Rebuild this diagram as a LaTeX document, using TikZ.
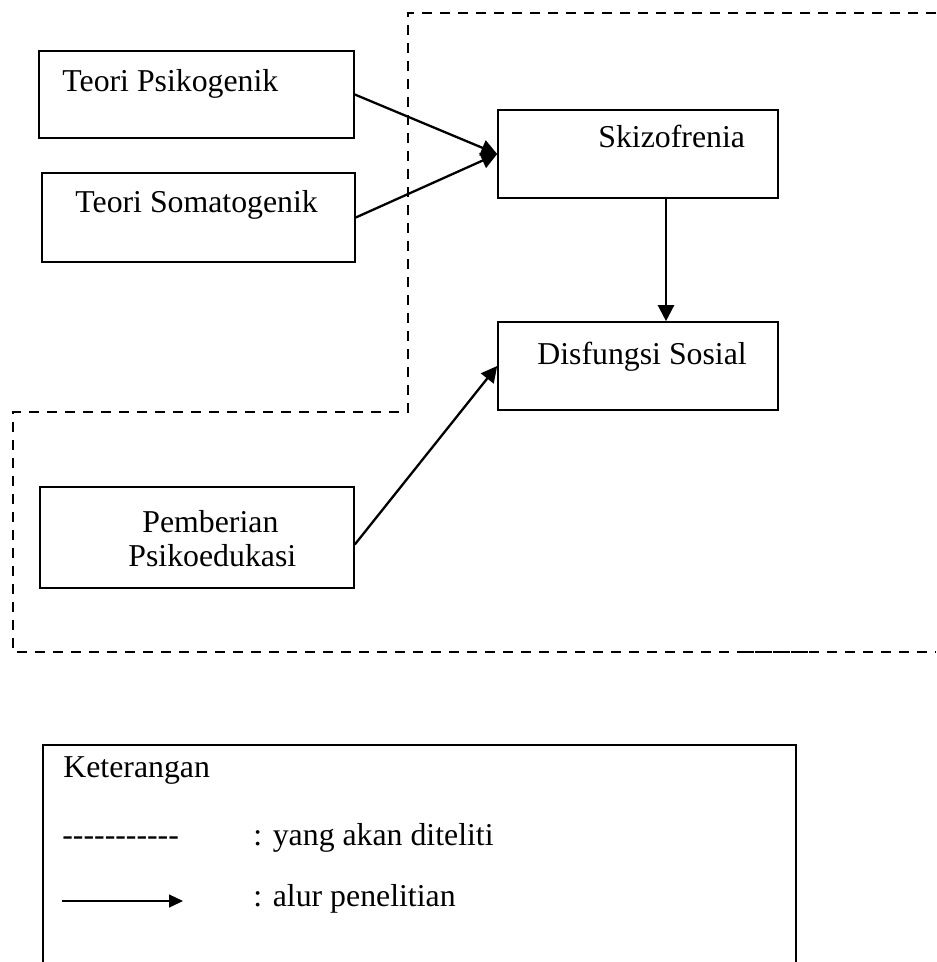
\documentclass[tikz,border=0pt]{standalone}
\usepackage{fontspec}
\setmainfont{Liberation Serif}
\usetikzlibrary{arrows.meta,calc}
\begin{document}
\begin{tikzpicture}[x=0.5pt,y=-0.5pt,
  every node/.style={font=\fontsize{15.9}{17.5}\selectfont},
  box/.style={draw,line width=0.8pt,rectangle,inner sep=0pt},
  txt/.style={anchor=base west,inner sep=0pt},
  flow/.style={line width=1.15pt,-{Triangle[length=8pt,width=8pt]}},
  region/.style={line width=1.4pt,dash pattern=on 5pt off 4pt},
  legarrow/.style={line width=0.6pt,-{Triangle[length=7pt,width=6.5pt]}}]
\path[use as bounding box,clip] (0,0) rectangle (936,962);

% boxes
\node[box,minimum width=157.5pt,minimum height=43.5pt] (psi) at (196.5,94.5) {};
\node[box,minimum width=156.5pt,minimum height=44.5pt] (soma) at (198.5,217.5) {};
\node[box,minimum width=140pt,minimum height=44pt] (skizo) at (638,154) {};
\node[box,minimum width=140pt,minimum height=44pt] (disf) at (638,366) {};
\node[box,minimum width=157pt,minimum height=50.5pt] (pemb) at (197,537.5) {};

% texts
\node[txt] (tpsi) at (62,92) {Teori Psikogenik};
\node[txt] (tsoma) at (75,213) {Teori Somatogenik};
\node[txt] (tskizo) at (598,148) {Skizofrenia};
\node[txt] (tdisf) at (537,364) {Disfungsi Sosial};
\node[txt] (tpemb1) at (142,532) {Pemberian};
\node[txt] (tpemb2) at (128,566) {Psikoedukasi};

% dashed region
\draw[region] (936,13) -- (408,13) -- (408,412) -- (13,412) -- (13,652) -- (936,652);
\draw[line width=1.4pt,dash pattern=on 8pt off 1pt] (738,652) -- (810,652);

% connectors
\draw[flow] (psi.east) -- (skizo.west);
\draw[flow] (soma.east) -- (skizo.west);
\draw[flow] ($(skizo.south)+(28,0)$) -- ($(disf.north)+(28,0)$);
\draw[flow] ($(pemb.east)+(0,7)$) -- (disf.west);

% legend
\node[box,minimum width=376.5pt,minimum height=130pt,anchor=north west] (legend) at (42,744) {};
\node[txt] (lket) at (63,777) {Keterangan};
\node[txt] (ldash) at (62,845) {-{}-{}-{}-{}-{}-{}-{}-{}-{}-{}-};
\node[txt] (ldashtxt) at (253,845) {: yang akan diteliti};
\coordinate (la) at (62,901);
\coordinate (lb) at (183,901);
\draw[legarrow] (la) -- (lb);
\node[txt] (larrtxt) at (253,906) {: alur penelitian};
\end{tikzpicture}
\end{document}
